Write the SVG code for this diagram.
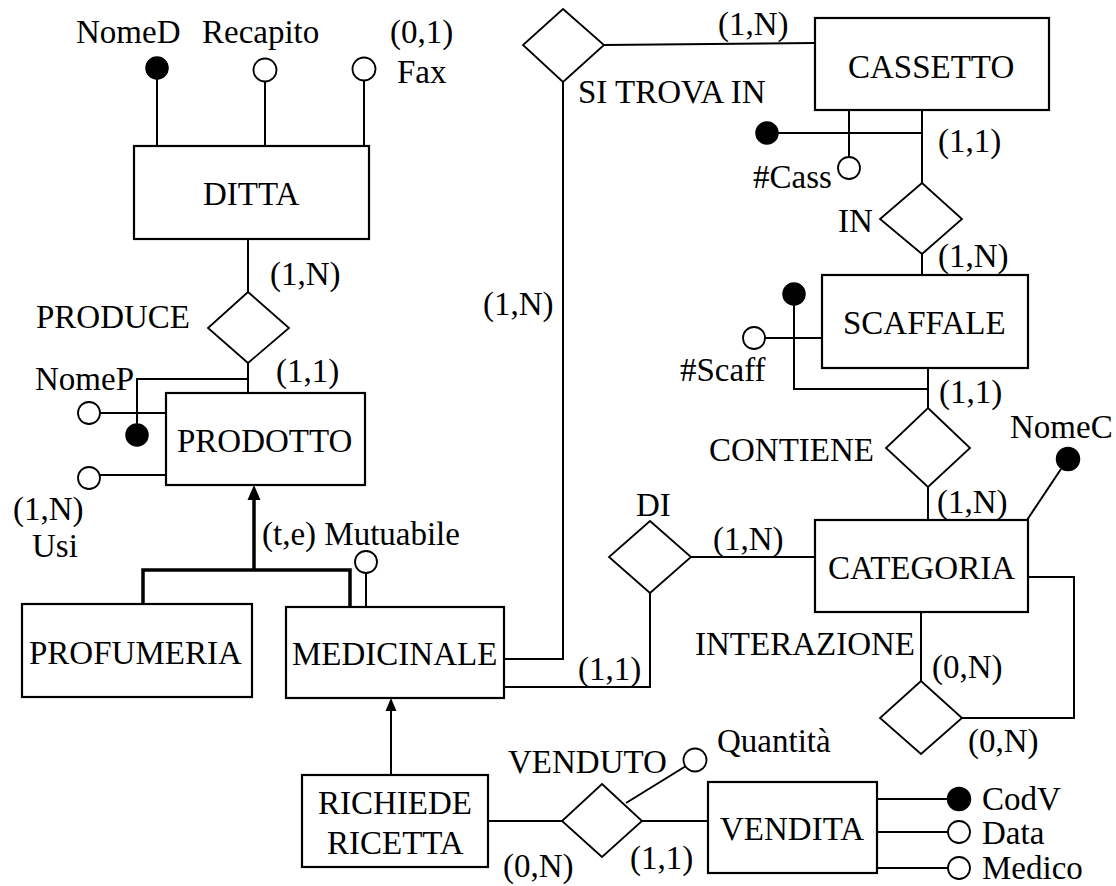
<svg xmlns="http://www.w3.org/2000/svg" width="1116" height="886" viewBox="0 0 1116 886">
  <style>
    text { font-family: "Liberation Serif", "Times New Roman", serif; font-size: 33px; fill: #000; }
    .box { fill: #fff; stroke: #000; stroke-width: 2.2; }
    .rel { fill: #fff; stroke: #000; stroke-width: 1.8; }
    .ln { fill: none; stroke: #000; stroke-width: 2; }
    .isa { fill: none; stroke: #000; stroke-width: 3.5; }
    .key { fill: #000; stroke: #000; stroke-width: 1.5; }
    .att { fill: #fff; stroke: #000; stroke-width: 1.8; }
  </style>

  <!-- connectors, attribute stems and generalisation lines -->
  <g id="connectors">
    <!-- DITTA attributes -->
    <line class="ln" x1="157" y1="79" x2="157" y2="146"/>
    <line class="ln" x1="265" y1="82" x2="265" y2="146"/>
    <line class="ln" x1="364" y1="81" x2="364" y2="146"/>
    <!-- DITTA - PRODUCE - PRODOTTO -->
    <line class="ln" x1="248" y1="239" x2="248" y2="292"/>
    <line class="ln" x1="248" y1="363" x2="248" y2="393"/>
    <!-- PRODOTTO attributes -->
    <polyline class="ln" points="248,379 137,379 137,424"/>
    <line class="ln" x1="100" y1="413" x2="166" y2="413"/>
    <line class="ln" x1="99" y1="475" x2="166" y2="475"/>
    <!-- generalisation PRODOTTO <- PROFUMERIA / MEDICINALE -->
    <line class="isa" x1="254" y1="498" x2="254" y2="570"/>
    <polygon points="254,485 247.5,500 260.5,500" fill="#000"/>
    <polyline class="isa" points="143,604 143,570 350,570 350,607"/>
    <line class="ln" x1="366" y1="573" x2="366" y2="607"/>
    <!-- RICHIEDE RICETTA -> MEDICINALE -->
    <line class="ln" x1="391" y1="709" x2="391" y2="775"/>
    <polygon points="391,698 385.5,711 396.5,711" fill="#000"/>
    <!-- SI TROVA IN -->
    <line class="ln" x1="604" y1="45" x2="815" y2="43"/>
    <polyline class="ln" points="563,82 563,659 504,659"/>
    <!-- CASSETTO identifier and IN -->
    <line class="ln" x1="778" y1="133" x2="922" y2="133"/>
    <line class="ln" x1="849" y1="110" x2="849" y2="157"/>
    <line class="ln" x1="922" y1="110" x2="922" y2="183"/>
    <line class="ln" x1="922" y1="254" x2="922" y2="275"/>
    <!-- SCAFFALE identifier and CONTIENE -->
    <polyline class="ln" points="794,305 794,389 928,389"/>
    <line class="ln" x1="765" y1="338" x2="822" y2="338"/>
    <line class="ln" x1="928" y1="368" x2="928" y2="408"/>
    <line class="ln" x1="928" y1="487" x2="928" y2="520"/>
    <!-- CATEGORIA -->
    <line class="ln" x1="1027" y1="520" x2="1061" y2="469"/>
    <line class="ln" x1="691" y1="557" x2="815" y2="557"/>
    <polyline class="ln" points="650,593 650,687 504,687"/>
    <!-- INTERAZIONE (recursive) -->
    <line class="ln" x1="921" y1="612" x2="921" y2="681"/>
    <polyline class="ln" points="1028,577 1074,577 1074,718 962,718"/>
    <!-- VENDUTO -->
    <line class="ln" x1="488" y1="821" x2="562" y2="821"/>
    <line class="ln" x1="642" y1="821" x2="708" y2="821"/>
    <line class="ln" x1="626" y1="803" x2="686" y2="766"/>
    <!-- VENDITA attributes -->
    <line class="ln" x1="877" y1="799" x2="948" y2="799"/>
    <line class="ln" x1="877" y1="832" x2="948" y2="832"/>
    <line class="ln" x1="877" y1="868" x2="948" y2="868"/>
  </g>

  <!-- entities -->
  <g id="ditta">
    <rect class="box" x="134" y="146" width="235" height="93"/>
    <text x="203" y="205">DITTA</text>
  </g>
  <g id="prodotto">
    <rect class="box" x="166" y="393" width="199" height="92"/>
    <text x="177" y="452">PRODOTTO</text>
  </g>
  <g id="profumeria">
    <rect class="box" x="22" y="604" width="230" height="93"/>
    <text x="29" y="664">PROFUMERIA</text>
  </g>
  <g id="medicinale">
    <rect class="box" x="286" y="607" width="218" height="91"/>
    <text x="292" y="665">MEDICINALE</text>
  </g>
  <g id="richiede-ricetta">
    <rect class="box" x="302" y="775" width="186" height="92"/>
    <text x="318" y="814">RICHIEDE</text>
    <text x="327" y="854">RICETTA</text>
  </g>
  <g id="cassetto">
    <rect class="box" x="815" y="18" width="234" height="92"/>
    <text x="848" y="78">CASSETTO</text>
  </g>
  <g id="scaffale">
    <rect class="box" x="822" y="275" width="206" height="93"/>
    <text x="843" y="334">SCAFFALE</text>
  </g>
  <g id="categoria">
    <rect class="box" x="815" y="520" width="213" height="92"/>
    <text x="828" y="579">CATEGORIA</text>
  </g>
  <g id="vendita">
    <rect class="box" x="708" y="782" width="169" height="91"/>
    <text x="720" y="840">VENDITA</text>
  </g>

  <!-- relationships -->
  <g id="produce">
    <polygon class="rel" points="248,292 289,328 248,363 208,328"/>
    <text x="36" y="328">PRODUCE</text>
    <text x="270" y="285">(1,N)</text>
    <text x="276" y="382">(1,1)</text>
  </g>
  <g id="si-trova-in">
    <polygon class="rel" points="563,9 604,45 563,82 523,45"/>
    <text x="578" y="103">SI TROVA IN</text>
    <text x="718" y="35">(1,N)</text>
    <text x="483" y="315">(1,N)</text>
  </g>
  <g id="in">
    <polygon class="rel" points="922,183 962,219 922,254 880,219"/>
    <text x="838" y="232">IN</text>
    <text x="938" y="152">(1,1)</text>
    <text x="938" y="267">(1,N)</text>
  </g>
  <g id="contiene">
    <polygon class="rel" points="928,408 970,448 928,487 886,448"/>
    <text x="709" y="461">CONTIENE</text>
    <text x="939" y="403">(1,1)</text>
    <text x="937" y="513">(1,N)</text>
  </g>
  <g id="di">
    <polygon class="rel" points="650,521 691,557 650,593 609,557"/>
    <text x="636" y="516">DI</text>
    <text x="713" y="550">(1,N)</text>
    <text x="578" y="680">(1,1)</text>
  </g>
  <g id="interazione">
    <polygon class="rel" points="921,681 962,718 921,754 880,718"/>
    <text x="695" y="655">INTERAZIONE</text>
    <text x="932" y="678">(0,N)</text>
    <text x="968" y="752">(0,N)</text>
  </g>
  <g id="venduto">
    <polygon class="rel" points="602,784 642,821 602,857 562,821"/>
    <text x="508" y="773">VENDUTO</text>
    <text x="503" y="877">(0,N)</text>
    <text x="630" y="869">(1,1)</text>
  </g>

  <!-- attributes -->
  <g id="attributes">
    <circle class="key" cx="157" cy="68" r="11"/>
    <text x="76" y="43">NomeD</text>
    <circle class="att" cx="265" cy="70" r="11.5"/>
    <text x="202" y="43">Recapito</text>
    <circle class="att" cx="364" cy="69" r="11.5"/>
    <text x="390" y="43">(0,1)</text>
    <text x="397" y="83">Fax</text>

    <circle class="key" cx="137" cy="435" r="11"/>
    <text x="35" y="390">NomeP</text>
    <circle class="att" cx="89" cy="413" r="11"/>
    <circle class="att" cx="89" cy="478" r="11"/>
    <text x="13" y="520">(1,N)</text>
    <text x="32" y="557">Usi</text>

    <circle class="att" cx="366" cy="562" r="11"/>
    <text x="262" y="545">(t,e) Mutuabile</text>

    <circle class="key" cx="767" cy="133" r="11"/>
    <circle class="att" cx="849" cy="168" r="11"/>
    <text x="753" y="188">#Cass</text>

    <circle class="key" cx="794" cy="294" r="11"/>
    <circle class="att" cx="754" cy="338" r="11"/>
    <text x="680" y="381">#Scaff</text>

    <circle class="key" cx="1068" cy="459" r="11.5"/>
    <text x="1010" y="438">NomeC</text>

    <circle class="att" cx="695" cy="760" r="11.5"/>
    <text x="717" y="752">Quantità</text>

    <circle class="key" cx="959" cy="799" r="11.5"/>
    <text x="982" y="810">CodV</text>
    <circle class="att" cx="959" cy="832" r="11"/>
    <text x="982" y="844">Data</text>
    <circle class="att" cx="959" cy="868" r="11"/>
    <text x="982" y="879">Medico</text>
  </g>
</svg>
